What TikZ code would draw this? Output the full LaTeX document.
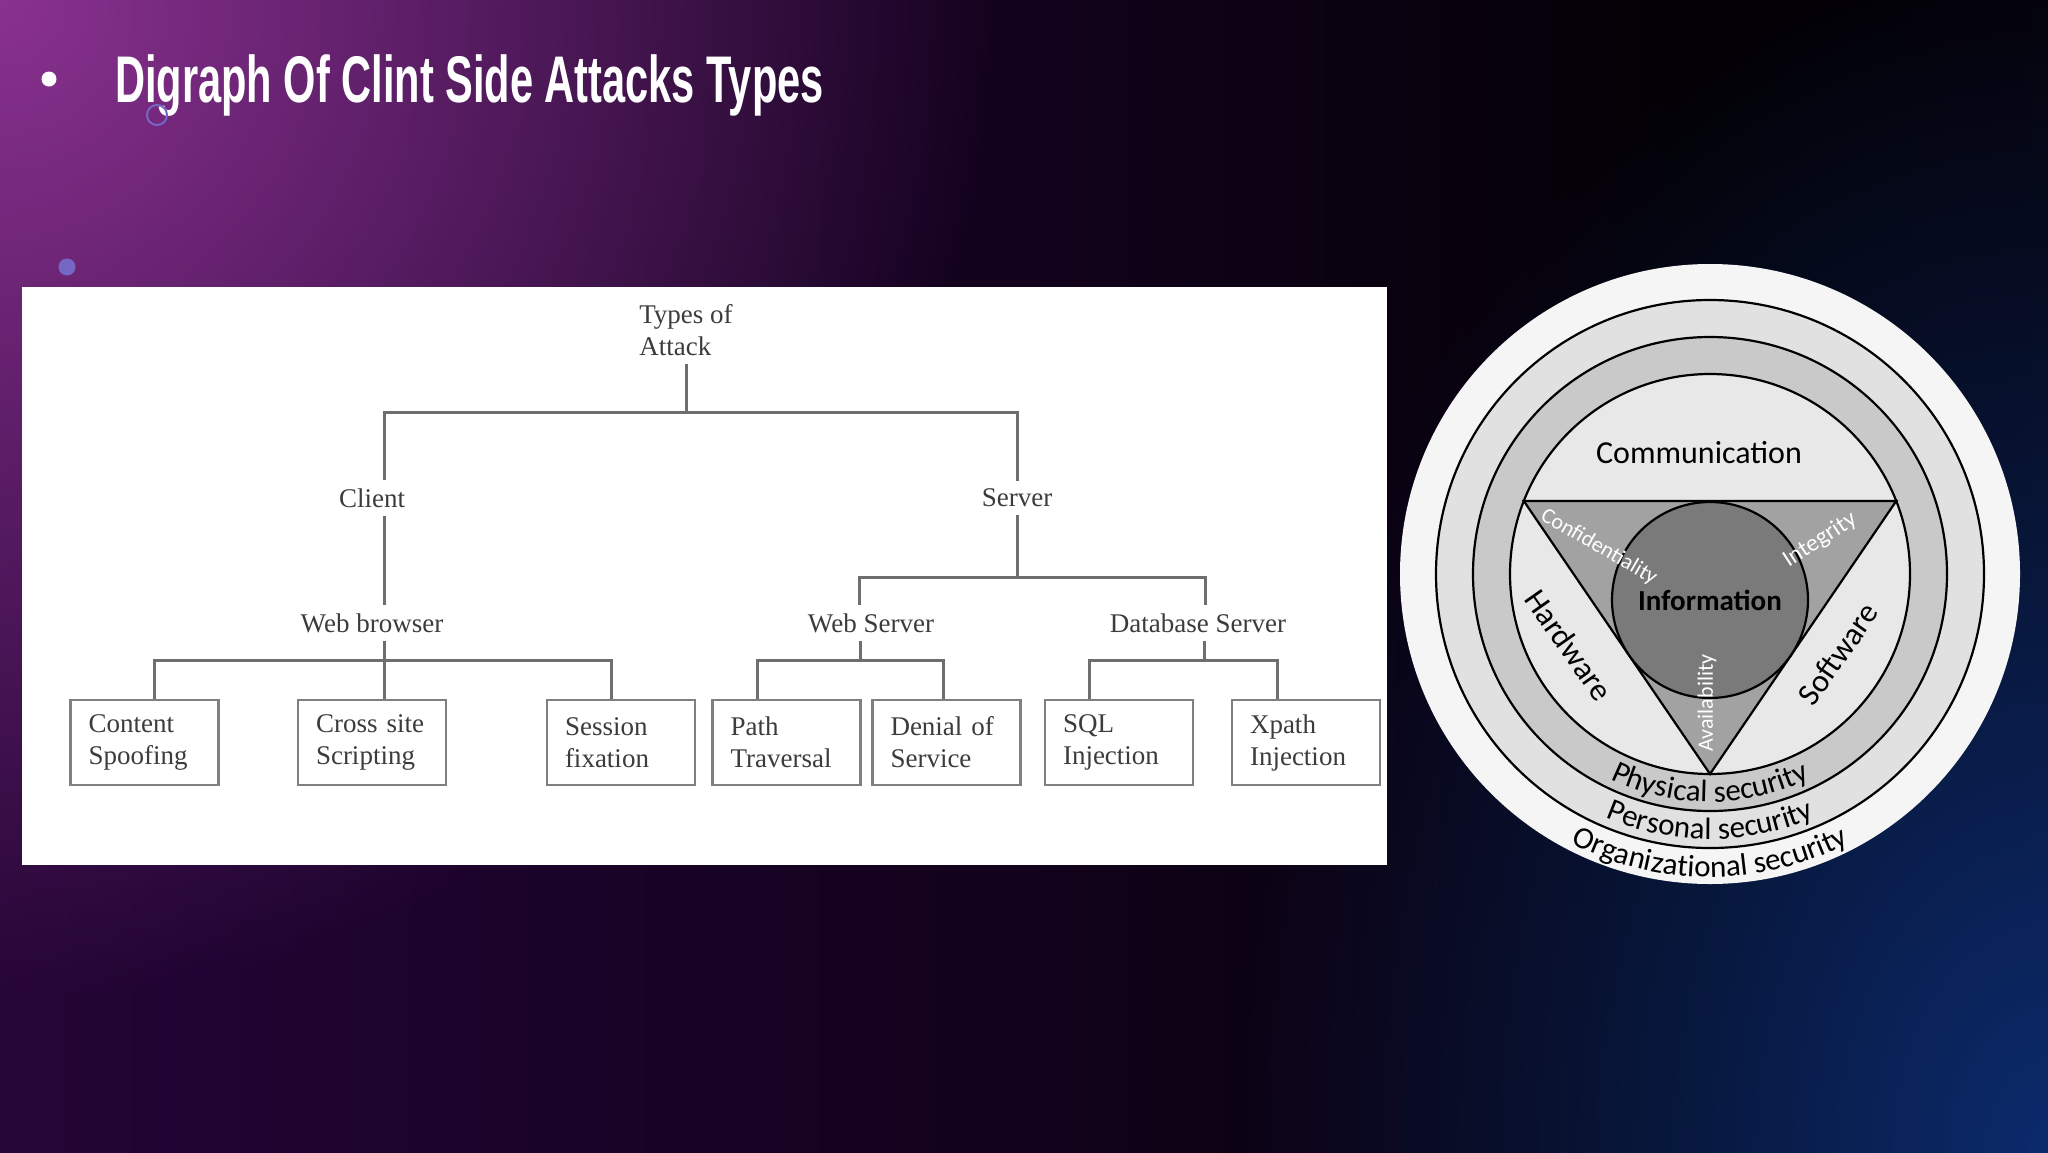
\documentclass[tikz,border=0pt]{standalone}
\usepackage{fontspec}
\setmainfont{Liberation Serif}
\newfontfamily\titlefont[FakeStretch=0.63]{Liberation Sans}
\newfontfamily\calib{Carlito}
\usetikzlibrary{positioning, decorations.text, fadings}

\definecolor{bgA}{HTML}{4C1459}
\definecolor{bgB}{HTML}{33093F}
\definecolor{bgC}{HTML}{200432}
\definecolor{bgD}{HTML}{12021C}
\definecolor{bgE}{HTML}{030105}
\definecolor{bgF}{HTML}{06030D}
\definecolor{glowpurple}{HTML}{8A3290}
\definecolor{glowblue}{HTML}{0C2B6C}
\definecolor{decoviolet}{HTML}{7468C4}
\definecolor{treetext}{HTML}{3C3C3C}
\definecolor{linkgray}{HTML}{6E6E6E}
\definecolor{boxline}{HTML}{808080}
\definecolor{discwhite}{HTML}{F5F5F5}
\definecolor{bandlight}{HTML}{E1E1E1}
\definecolor{bandgray}{HTML}{C9C9C9}
\definecolor{innerlight}{HTML}{E8E8E8}
\definecolor{trigray}{HTML}{A2A2A2}
\definecolor{infogray}{HTML}{7A7A7A}

\pgfdeclarehorizontalshading{slidebg}{100bp}{color(0bp)=(bgA); color(12bp)=(bgB);
  color(30bp)=(bgC); color(50bp)=(bgD); color(66bp)=(bgE); color(100bp)=(bgF)}
\tikzfading[name=glowfade, inner color=transparent!0, outer color=transparent!100]

\newcommand{\ringfont}{\calib\fontsize{31}{31}\selectfont}

\begin{document}
\begin{tikzpicture}[
    x=1pt, y=1pt,
    lbl/.style={font=\fontsize{27}{32}\selectfont, text=treetext, inner sep=8pt},
    box/.style={draw=boxline, line width=2.5pt, fill=white,
                minimum width=148pt, minimum height=85pt,
                text width=112pt, inner xsep=18pt, align=left,
                font=\fontsize{27}{32}\selectfont, text=treetext},
    link/.style={draw=linkgray, line width=3pt},
    ring/.style={draw=black, line width=2.2pt},
    zone/.style={font=\calib\fontsize{32}{32}\selectfont, text=black, inner sep=2pt},
    pillar/.style={font=\calib\fontsize{22}{22}\selectfont, text=white, inner sep=2pt},
    deco/.style={circle, inner sep=0pt}
]

\useasboundingbox (0,0) rectangle (2048,-1152);

%% --- Fundal ---
\shade[shading=slidebg] (0,0) rectangle (2048,-1152);
\begin{scope}
  \clip (0,0) rectangle (2048,-1152);
  \fill[glowpurple, path fading=glowfade] (0,0) circle (1000);
  \fill[glowblue, path fading=glowfade] (2048,-1152) ellipse [x radius=820, y radius=1200];
\end{scope}

%% --- Titlu ---
\node[deco, fill=white, minimum size=15pt] (dot_title) at (49,-79) {};
\node[anchor=base west, inner sep=0pt, text=white,
      font=\titlefont\bfseries\fontsize{66}{70}\selectfont] (title) at (115,-102)
      {Digraph Of Clint Side Attacks Types};
\node[deco, draw=decoviolet, line width=2pt, minimum size=20pt] (ring_deco) at (157,-115) {};
\node[deco, fill=decoviolet, minimum size=17pt] (dot_deco) at (67,-267) {};

%% --- Panou arbore ---
\fill[white] (22,-287) rectangle (1387,-865);

%% --- Noduri arbore ---
\node[lbl, align=left] (types) at (686,-330) {Types of\\Attack};
\node[lbl] (client)      at (372,-498)  {Client};
\node[lbl] (server)      at (1017,-498) {Server};
\node[lbl] (web_browser) at (372,-623)  {Web browser};
\node[lbl] (web_server)  at (871,-623)  {Web Server};
\node[lbl] (db_server)   at (1198,-623) {Database Server};

\node[box] (spoof)     at (144.5,-742.5) {Content\\Spoofing};
\node[box] (xss)       at (372,-742.5)   {Cross site\\Scripting};
\node[box] (session)   at (621,-742.5)   {Session\\fixation};
\node[box] (path_trav) at (786.5,-742.5) {Path\\Traversal};
\node[box] (dos)       at (946.5,-742.5) {Denial of\\Service};
\node[box] (sqli)      at (1119,-742.5)  {SQL\\Injection};
\node[box] (xpath)     at (1306,-742.5)  {Xpath\\Injection};

%% --- Legaturi arbore ---
\coordinate (types_bus)   at (686,-412);
\coordinate (server_bus)  at (1017,-577);
\coordinate (browser_bus) at (384,-660);
\coordinate (ws_bus)      at (860,-660);
\coordinate (db_bus)      at (1204,-660);

\draw[link] (types) -- (types_bus);
\draw[link] ([xshift=12pt]client.north) |- (types_bus) -| (server.north);
\draw[link] ([xshift=12pt]client.south) -- ([xshift=12pt]web_browser.north);
\draw[link] (server) -- (server_bus);
\draw[link] ([xshift=-12pt]web_server.north) |- (server_bus) -| ([xshift=7pt]db_server.north);

\draw[link] ([xshift=12pt]web_browser.south) -- (browser_bus);
\draw[link] ([xshift=10pt]spoof.north) |- (browser_bus) -| ([xshift=-10pt]session.north);
\draw[link] (browser_bus) -- ([xshift=12pt]xss.north);

\draw[link] ([xshift=-11pt]web_server.south) -- (ws_bus);
\draw[link] ([xshift=-29.5pt]path_trav.north) |- (ws_bus) -| ([xshift=-3.5pt]dos.north);

\draw[link] ([xshift=6pt]db_server.south) -- (db_bus);
\draw[link] ([xshift=-30pt]sqli.north) |- (db_bus) -| ([xshift=-29pt]xpath.north);

%% --- Cercuri securitate ---
\coordinate (c) at (1710,-574);
\fill[discwhite] (c) circle (310);
\draw[ring, fill=bandlight]  (c) circle (274);
\draw[ring, fill=bandgray]   (c) circle (237);
\draw[ring, fill=innerlight] (c) circle (200);
\draw[ring, fill=trigray] ([shift={(21.4:200)}]c) -- ([shift={(158.6:200)}]c)
    -- ([shift={(270:200)}]c) -- cycle;
\node[ring, circle, fill=infogray, minimum size=196pt, inner sep=0pt,
      font=\calib\bfseries\fontsize{29}{29}\selectfont] (info) at (1710,-600) {Information};

\node[zone] (comm) at (1699,-453) {Communication};
\node[zone, rotate=-55] (hw) at (1569,-645) {Hardware};
\node[zone, rotate=55]  (sw) at (1838,-654) {Software};
\node[pillar, rotate=-30] (conf)  at (1599,-547) {Confidentiality};
\node[pillar, rotate=33, font=\calib\fontsize{24}{24}\selectfont] (integ) at (1820,-540) {Integrity};
\node[pillar, rotate=90]  (avail) at (1707,-703) {Availability};

%% --- Texte pe inele ---
\path[decorate, decoration={text along path, text align=center,
      text={|\ringfont|Physical security}}]
    ([shift={(200:228)}]c) arc[start angle=200, end angle=340, radius=228];
\path[decorate, decoration={text along path, text align=center,
      text={|\ringfont|Personal security}}]
    ([shift={(200:265)}]c) arc[start angle=200, end angle=340, radius=265];
\path[decorate, decoration={text along path, text align=center,
      text={|\ringfont|Organizational security}}]
    ([shift={(200:303)}]c) arc[start angle=200, end angle=340, radius=303];

\end{tikzpicture}
\end{document}
